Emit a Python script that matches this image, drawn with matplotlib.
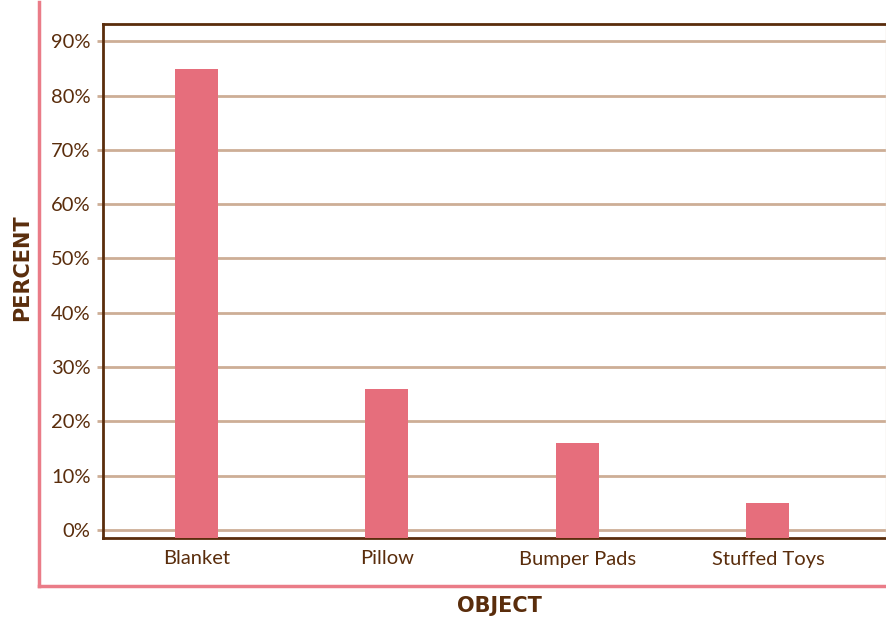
import matplotlib.pyplot as plt
from matplotlib.lines import Line2D
from matplotlib.ticker import FuncFormatter

objects = ["Blanket", "Pillow", "Bumper Pads", "Stuffed Toys"]
percent = [85, 26, 16, 5]
yticks = [0, 10, 20, 30, 40, 50, 60, 70, 80, 90]

brown = "#5A2D0C"
tan = "#CDAE96"
rose = "#E66E7C"
frame = "#EA7C88"

plt.rcParams["font.family"] = ["Lato", "DejaVu Sans"]

fig = plt.figure(figsize=(8.86, 6.18), dpi=100)
W, H = 886, 618
ax = fig.add_axes([103 / W, 1 - 538 / H, (886 - 103) / W, (538 - 24) / H])

ymin = -1.5
x = range(len(objects))
ax.bar(x, [p - ymin for p in percent], bottom=ymin, width=0.226,
       color=rose, zorder=3)

ax.set_xlim(-0.49, 3.62)
ax.set_ylim(ymin, 93.2)
ax.set_yticks(yticks)
ax.yaxis.set_major_formatter(FuncFormatter(lambda v, p: f"{v:.0f}%"))
ax.grid(axis="y", color=tan, linewidth=2, zorder=1)
ax.set_xticks(list(x))
ax.set_xticklabels(objects)
ax.tick_params(axis="y", length=4, width=2, color=tan, pad=5,
               labelsize=14.5, labelcolor=brown)
ax.tick_params(axis="x", length=0, pad=9, labelsize=14.5, labelcolor=brown)

for side in ["left", "top", "bottom"]:
    ax.spines[side].set_color(brown)
    ax.spines[side].set_linewidth(2)
ax.spines["right"].set_color("#E8DCD2")
ax.spines["right"].set_linewidth(1)

# heavy axis titles
fig.text(22 / W, 1 - 268 / H, "PERCENT", rotation=90, ha="center", va="center",
         fontsize=15, fontweight="bold", color=brown, family="DejaVu Sans")
fig.text(499 / W, 1 - 606 / H, "OBJECT", ha="center", va="center",
         fontsize=15, fontweight="bold", color=brown, family="DejaVu Sans")

# pink frame around the chart
fig.add_artist(Line2D([39 / W, 39 / W], [1 - 2 / H, 1 - 586 / H],
                      color=frame, linewidth=2.5, transform=fig.transFigure))
fig.add_artist(Line2D([39 / W, 1], [1 - 586 / H, 1 - 586 / H],
                      color=frame, linewidth=2.5, transform=fig.transFigure))

fig.savefig("out.png", dpi=100)
